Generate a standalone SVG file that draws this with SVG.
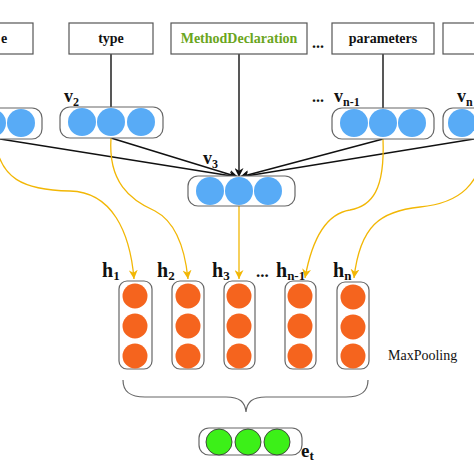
<svg xmlns="http://www.w3.org/2000/svg" width="474" height="474" viewBox="0 0 474 474">
<style>
.box{fill:#fff;stroke:#555;stroke-width:1.2}
.cont{fill:#fff;stroke:#666;stroke-width:1.2}
.blue{fill:#58abf6}
.orange{fill:#f5641e}
.green{fill:#3cf018;stroke:#3a3a3a;stroke-width:0.9}
.tt{font-family:"Liberation Serif",serif;font-weight:bold;font-size:14px;fill:#111;text-anchor:middle}
.lbl{font-family:"Liberation Serif",serif;font-weight:bold;font-size:18px;fill:#111}
.sub{font-size:12px}
.blk{fill:none;stroke:#111;stroke-width:1.4}
.yel{fill:none;stroke:#f2b705;stroke-width:1.3}
</style>
<defs>
<marker id="ab" viewBox="0 0 10 10" refX="10" refY="5" markerWidth="9" markerHeight="9" markerUnits="userSpaceOnUse" orient="auto"><path d="M0,0 L10,5 L0,10 L3,5 Z" fill="#111"/></marker>
<marker id="ay" viewBox="0 0 10 10" refX="10" refY="5" markerWidth="9" markerHeight="9" markerUnits="userSpaceOnUse" orient="auto"><path d="M0,0 L10,5 L0,10 L3,5 Z" fill="#f2b705"/></marker>
</defs>
<g id="connectors">
<line class="blk" x1="111" y1="54" x2="111" y2="107"/>
<line class="blk" x1="383" y1="54" x2="383" y2="108"/>
<line class="blk" x1="239" y1="54" x2="239" y2="177" marker-end="url(#ab)"/>
<line class="blk" x1="0" y1="139" x2="238" y2="177" marker-end="url(#ab)"/>
<line class="blk" x1="111" y1="138" x2="238" y2="177" marker-end="url(#ab)"/>
<line class="blk" x1="383" y1="139" x2="240" y2="177" marker-end="url(#ab)"/>
<line class="blk" x1="474" y1="139" x2="240" y2="177" marker-end="url(#ab)"/>
<path class="yel" d="M -5,140 C 0,178 22,190 70,191 C 112,192 130,232 134,279" marker-end="url(#ay)"/>
<path class="yel" d="M 111,138 C 108,182 130,200 155,211 C 176,222 185,250 188,279" marker-end="url(#ay)"/>
<path class="yel" d="M 239,206 L 239,279" marker-end="url(#ay)"/>
<path class="yel" d="M 383,139 C 385,190 372,206 350,210 C 324,214 311,245 305,278" marker-end="url(#ay)"/>
<path class="yel" d="M 488,139 C 480,186 460,203 420,207 C 380,211 360,226 354,278" marker-end="url(#ay)"/>
<path d="M123,380 C123,392 130,397 145,397 L226,397 C240,397 245,402 246,412 C247,402 252,397 266,397 L346,397 C361,397 368,392 368,380" fill="none" stroke="#666" stroke-width="1.2"/>
</g>
<g id="node-box1"><rect class="box" x="-40" y="23" width="73" height="31"/><text class="tt" x="4" y="43">e</text></g>
<g id="node-type"><rect class="box" x="69" y="23" width="84" height="31"/><text class="tt" x="111" y="43">type</text></g>
<g id="node-method"><rect class="box" x="171" y="23" width="136" height="31"/><text class="tt" x="239" y="43" style="fill:#6aa520">MethodDeclaration</text></g>
<text class="lbl" x="312" y="48" style="font-size:16px">...</text>
<g id="node-parameters"><rect class="box" x="332" y="23" width="102" height="31"/><text class="tt" x="383" y="43">parameters</text></g>
<g id="node-box5"><rect class="box" x="443" y="23" width="60" height="31"/></g>
<g id="node-v1"><rect class="cont" x="-40" y="108" width="82" height="31" rx="10"/><circle class="blue" cx="-8" cy="123" r="14"/><circle class="blue" cx="21" cy="123" r="14"/></g>
<g id="node-v2"><rect class="cont" x="60" y="107" width="103" height="31" rx="10"/><circle class="blue" cx="82" cy="122" r="14"/><circle class="blue" cx="111" cy="122" r="14"/><circle class="blue" cx="141" cy="122" r="14"/><text class="lbl" x="64" y="102">v<tspan class="sub" dy="4">2</tspan></text></g>
<g id="node-vn1"><rect class="cont" x="332" y="108" width="102" height="31" rx="10"/><circle class="blue" cx="354" cy="123" r="14"/><circle class="blue" cx="383" cy="123" r="14"/><circle class="blue" cx="412" cy="123" r="14"/><text class="lbl" x="312" y="102" style="font-size:16px">...</text><text class="lbl" x="334" y="102">v<tspan class="sub" dy="4">n-1</tspan></text></g>
<g id="node-vn"><rect class="cont" x="443" y="108" width="80" height="31" rx="10"/><circle class="blue" cx="462" cy="123" r="14"/><circle class="blue" cx="491" cy="123" r="14"/><text class="lbl" x="457" y="102">v<tspan class="sub" dy="4">n</tspan></text></g>
<g id="node-v3"><rect class="cont" x="188" y="176" width="107" height="30" rx="10"/><circle class="blue" cx="210" cy="191" r="14"/><circle class="blue" cx="239" cy="191" r="14"/><circle class="blue" cx="268" cy="191" r="14"/><text class="lbl" x="203" y="164">v<tspan class="sub" dy="4">3</tspan></text></g>
<g id="node-h1"><rect class="cont" x="119" y="281" width="33" height="88" rx="8"/><circle class="orange" cx="135" cy="296" r="12.5"/><circle class="orange" cx="135" cy="326" r="12.5"/><circle class="orange" cx="135" cy="356" r="12.5"/><text class="lbl" x="102" y="277" style="font-size:20px">h<tspan class="sub" dy="3" style="font-size:13px">1</tspan></text></g>
<g id="node-h2"><rect class="cont" x="172" y="281" width="32" height="88" rx="8"/><circle class="orange" cx="188" cy="296" r="12.5"/><circle class="orange" cx="188" cy="326" r="12.5"/><circle class="orange" cx="188" cy="356" r="12.5"/><text class="lbl" x="157" y="277" style="font-size:20px">h<tspan class="sub" dy="3" style="font-size:13px">2</tspan></text></g>
<g id="node-h3"><rect class="cont" x="224" y="281" width="31" height="88" rx="8"/><circle class="orange" cx="239" cy="296" r="12.5"/><circle class="orange" cx="239" cy="326" r="12.5"/><circle class="orange" cx="239" cy="356" r="12.5"/><text class="lbl" x="212" y="277" style="font-size:20px">h<tspan class="sub" dy="3" style="font-size:13px">3</tspan></text></g>
<text class="lbl" x="256" y="277" style="font-size:17px">...</text>
<g id="node-hn1"><rect class="cont" x="285" y="281" width="31" height="88" rx="8"/><circle class="orange" cx="300" cy="296" r="12.5"/><circle class="orange" cx="300" cy="326" r="12.5"/><circle class="orange" cx="300" cy="356" r="12.5"/><text class="lbl" x="276" y="277" style="font-size:20px">h<tspan class="sub" dy="3" style="font-size:13px">n-1</tspan></text></g>
<g id="node-hn"><rect class="cont" x="337" y="282" width="32" height="87" rx="8"/><circle class="orange" cx="353" cy="297" r="12.5"/><circle class="orange" cx="353" cy="327" r="12.5"/><circle class="orange" cx="353" cy="356" r="12.5"/><text class="lbl" x="333" y="277" style="font-size:20px">h<tspan class="sub" dy="3" style="font-size:13px">n</tspan></text></g>
<text x="388" y="360" style="font-family:'Liberation Serif',serif;font-size:14px;fill:#111">MaxPooling</text>
<g id="node-et"><rect class="cont" x="199" y="428" width="103" height="27" rx="10"/><circle class="green" cx="219" cy="442" r="13"/><circle class="green" cx="248" cy="442" r="13"/><circle class="green" cx="277" cy="442" r="13"/><text class="lbl" x="301" y="457" style="font-size:19px">e<tspan class="sub" dy="3" style="font-size:13px">t</tspan></text></g>
</svg>
